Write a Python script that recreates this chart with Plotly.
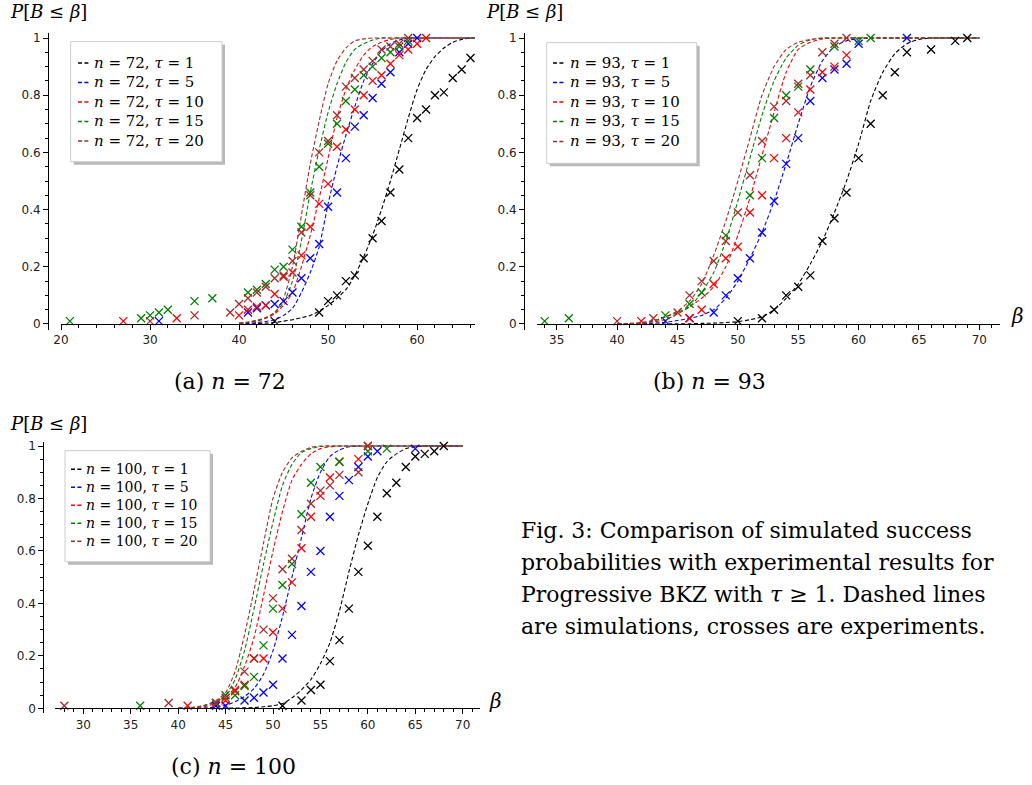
import plotly.graph_objects as go

W, H = 1032, 785

# ---------------- data ----------------
COLORS = ["#000000", "#0000ff", "#ff0000", "#008000", "#a52a2a"]
TAUS = [1, 5, 10, 15, 20]

# Panel (a) n = 72 : simulated curves on an integer beta grid
A_BETA_SIM = [40, 41, 42, 43, 44, 45, 46, 47, 48, 49, 50, 51, 52, 53, 54, 55, 56, 57,
              58, 59, 60, 61, 62, 63, 64, 65, 66, 67]
A_SIM_T1 = [0.0, 0.0, 0.001, 0.003, 0.005, 0.01, 0.015, 0.022, 0.03, 0.045, 0.065, 0.09,
            0.12, 0.17, 0.235, 0.31, 0.40, 0.50, 0.61, 0.72, 0.82, 0.89, 0.935, 0.965,
            0.985, 0.995, 1.0, 1.0]
A_SIM_T5 = [0.0, 0.002, 0.005, 0.009, 0.015, 0.03, 0.055, 0.11, 0.18, 0.27, 0.42, 0.55,
            0.66, 0.76, 0.85, 0.91, 0.955, 0.98, 0.993, 1.0, 1.0, 1.0, 1.0, 1.0, 1.0, 1.0,
            1.0, 1.0]
A_SIM_T10 = [0.002, 0.005, 0.01, 0.02, 0.035, 0.065, 0.11, 0.2, 0.31, 0.44, 0.58, 0.72,
             0.82, 0.89, 0.94, 0.97, 0.985, 0.995, 1.0, 1.0, 1.0, 1.0, 1.0, 1.0, 1.0, 1.0,
             1.0, 1.0]
A_SIM_T15 = [0.003, 0.006, 0.012, 0.022, 0.04, 0.075, 0.15, 0.29, 0.46, 0.61, 0.74, 0.84,
             0.915, 0.96, 0.98, 0.993, 1.0, 1.0, 1.0, 1.0, 1.0, 1.0, 1.0, 1.0, 1.0, 1.0,
             1.0, 1.0]
A_SIM_T20 = [0.003, 0.007, 0.013, 0.022, 0.04, 0.09, 0.2, 0.38, 0.56, 0.71, 0.84, 0.92,
             0.965, 0.99, 0.997, 1.0, 1.0, 1.0, 1.0, 1.0, 1.0, 1.0, 1.0, 1.0, 1.0, 1.0,
             1.0, 1.0]
# Panel (a) experiments
A_T1_B = [44, 49, 50, 51, 52, 53, 54, 55, 56, 57, 58, 59, 60, 61, 62, 63, 64, 65, 66]
A_T1_P = [0.01, 0.04, 0.08, 0.10, 0.15, 0.17, 0.23, 0.30, 0.36, 0.46, 0.54, 0.65, 0.72,
          0.75, 0.80, 0.81, 0.86, 0.89, 0.93]
A_T5_B = [31, 41, 42, 43, 44, 45, 46, 47, 48, 49, 50, 51, 52, 53, 54, 55, 56, 57, 58, 59, 60]
A_T5_P = [0.01, 0.04, 0.055, 0.065, 0.07, 0.08, 0.11, 0.16, 0.23, 0.28, 0.41, 0.46, 0.58,
          0.69, 0.73, 0.79, 0.84, 0.88, 0.95, 0.98, 1.0]
A_T10_B = [27, 33, 40, 41, 42, 43, 44, 45, 46, 47, 48, 49, 50, 51, 52, 53, 54, 55, 56, 57,
           58, 59, 60, 61]
A_T10_P = [0.01, 0.02, 0.03, 0.05, 0.06, 0.065, 0.105, 0.165, 0.18, 0.24, 0.34, 0.42, 0.49,
           0.62, 0.68, 0.75, 0.80, 0.85, 0.87, 0.91, 0.94, 0.96, 0.98, 1.0]
A_T15_B = [21, 29, 30, 31, 32, 35, 37, 41, 42, 43, 44, 45, 46, 47, 48, 49, 50, 51, 52, 53,
           54, 55, 56, 57, 58, 59]
A_T15_P = [0.01, 0.02, 0.03, 0.04, 0.05, 0.08, 0.09, 0.11, 0.12, 0.14, 0.19, 0.20, 0.26,
           0.34, 0.46, 0.55, 0.63, 0.70, 0.78, 0.82, 0.87, 0.90, 0.93, 0.95, 0.97, 0.99]
A_T20_B = [30, 35, 39, 40, 41, 42, 43, 44, 45, 46, 47, 48, 49, 50, 51, 52, 53, 54, 55, 56,
           57, 58, 59]
A_T20_P = [0.01, 0.03, 0.04, 0.07, 0.09, 0.11, 0.13, 0.16, 0.17, 0.22, 0.32, 0.45, 0.60,
           0.64, 0.73, 0.83, 0.86, 0.89, 0.92, 0.96, 0.97, 0.98, 1.0]

# Panel (b) n = 93
B_BETA_SIM = [40, 41, 42, 43, 44, 45, 46, 47, 48, 49, 50, 51, 52, 53, 54, 55, 56, 57, 58,
              59, 60, 61, 62, 63, 64, 65, 66, 67, 68, 69, 70]
B_SIM_T1 = [0.0, 0.0, 0.0, 0.0, 0.0, 0.001, 0.001, 0.002, 0.003, 0.005, 0.008, 0.015, 0.025,
            0.05, 0.09, 0.14, 0.21, 0.29, 0.39, 0.50, 0.63, 0.78, 0.88, 0.945, 0.98, 0.995,
            1.0, 1.0, 1.0, 1.0, 1.0]
B_SIM_T5 = [0.0, 0.0, 0.001, 0.003, 0.006, 0.012, 0.02, 0.03, 0.05, 0.09, 0.15, 0.23, 0.32,
            0.43, 0.56, 0.70, 0.83, 0.92, 0.97, 0.99, 0.998, 1.0, 1.0, 1.0, 1.0, 1.0, 1.0,
            1.0, 1.0, 1.0, 1.0]
B_SIM_T10 = [0.0, 0.0, 0.003, 0.008, 0.015, 0.035, 0.06, 0.09, 0.13, 0.2, 0.31, 0.44, 0.59,
             0.74, 0.88, 0.96, 0.985, 0.997, 1.0, 1.0, 1.0, 1.0, 1.0, 1.0, 1.0, 1.0, 1.0,
             1.0, 1.0, 1.0, 1.0]
B_SIM_T15 = [0.0, 0.0, 0.004, 0.01, 0.025, 0.04, 0.06, 0.11, 0.18, 0.29, 0.43, 0.58, 0.73,
             0.85, 0.93, 0.975, 0.993, 1.0, 1.0, 1.0, 1.0, 1.0, 1.0, 1.0, 1.0, 1.0, 1.0,
             1.0, 1.0, 1.0, 1.0]
B_SIM_T20 = [0.0, 0.002, 0.005, 0.012, 0.025, 0.045, 0.08, 0.14, 0.24, 0.36, 0.50, 0.65,
             0.80, 0.90, 0.96, 0.985, 0.995, 1.0, 1.0, 1.0, 1.0, 1.0, 1.0, 1.0, 1.0, 1.0,
             1.0, 1.0, 1.0, 1.0, 1.0]
B_T1_B = [50, 52, 53, 54, 55, 56, 57, 58, 59, 60, 61, 62, 63, 64, 66, 68, 69]
B_T1_P = [0.01, 0.02, 0.05, 0.10, 0.13, 0.17, 0.29, 0.37, 0.46, 0.58, 0.70, 0.80, 0.88,
          0.95, 0.96, 0.99, 1.0]
B_T5_B = [44, 46, 48, 49, 50, 51, 52, 53, 54, 55, 56, 57, 58, 59, 60, 64]
B_T5_P = [0.01, 0.02, 0.04, 0.10, 0.16, 0.23, 0.32, 0.43, 0.56, 0.65, 0.78, 0.86, 0.89,
          0.91, 0.98, 1.0]
B_T10_B = [42, 46, 47, 48, 49, 50, 51, 52, 53, 54, 55, 56, 57, 58, 59]
B_T10_P = [0.01, 0.02, 0.05, 0.14, 0.23, 0.27, 0.39, 0.45, 0.58, 0.65, 0.74, 0.82, 0.88,
           0.90, 0.94]
B_T15_B = [34, 36, 44, 46, 47, 49, 51, 52, 53, 54, 55, 56, 58, 60, 61]
B_T15_P = [0.01, 0.02, 0.03, 0.07, 0.11, 0.31, 0.45, 0.58, 0.72, 0.80, 0.83, 0.89, 0.97,
           0.99, 1.0]
B_T20_B = [40, 43, 45, 46, 47, 48, 49, 50, 51, 52, 53, 54, 55, 56, 57, 58, 59]
B_T20_P = [0.01, 0.02, 0.04, 0.10, 0.15, 0.22, 0.29, 0.39, 0.52, 0.64, 0.76, 0.78, 0.84,
           0.87, 0.95, 0.98, 1.0]

# Panel (c) n = 100
C_BETA_SIM = [40, 41, 42, 43, 44, 45, 46, 47, 48, 49, 50, 51, 52, 53, 54, 55, 56, 57, 58,
              59, 60, 61, 62, 63, 64, 65, 66, 67, 68, 69, 70]
C_SIM_T1 = [0.0, 0.0, 0.0, 0.0, 0.0, 0.001, 0.001, 0.002, 0.003, 0.006, 0.01, 0.018, 0.04,
            0.07, 0.11, 0.17, 0.25, 0.37, 0.52, 0.66, 0.78, 0.88, 0.94, 0.97, 0.99, 0.997,
            1.0, 1.0, 1.0, 1.0, 1.0]
C_SIM_T5 = [0.0, 0.0, 0.0, 0.002, 0.005, 0.012, 0.025, 0.045, 0.075, 0.13, 0.22, 0.35, 0.50,
            0.65, 0.80, 0.90, 0.96, 0.985, 0.997, 1.0, 1.0, 1.0, 1.0, 1.0, 1.0, 1.0, 1.0,
            1.0, 1.0, 1.0, 1.0]
C_SIM_T10 = [0.0, 0.0, 0.003, 0.008, 0.02, 0.04, 0.08, 0.16, 0.27, 0.43, 0.60, 0.75, 0.87,
             0.93, 0.97, 0.99, 0.997, 1.0, 1.0, 1.0, 1.0, 1.0, 1.0, 1.0, 1.0, 1.0, 1.0,
             1.0, 1.0, 1.0, 1.0]
C_SIM_T15 = [0.0, 0.002, 0.005, 0.012, 0.025, 0.05, 0.11, 0.22, 0.38, 0.55, 0.71, 0.85,
             0.93, 0.975, 0.99, 0.998, 1.0, 1.0, 1.0, 1.0, 1.0, 1.0, 1.0, 1.0, 1.0, 1.0,
             1.0, 1.0, 1.0, 1.0, 1.0]
C_SIM_T20 = [0.0, 0.002, 0.006, 0.014, 0.03, 0.06, 0.14, 0.28, 0.45, 0.63, 0.80, 0.90,
             0.955, 0.98, 0.995, 1.0, 1.0, 1.0, 1.0, 1.0, 1.0, 1.0, 1.0, 1.0, 1.0, 1.0,
             1.0, 1.0, 1.0, 1.0, 1.0]
C_T1_B = [51, 53, 54, 55, 56, 57, 58, 59, 60, 61, 62, 63, 64, 65, 66, 67, 68]
C_T1_P = [0.01, 0.03, 0.07, 0.09, 0.18, 0.26, 0.38, 0.52, 0.62, 0.73, 0.82, 0.86, 0.92,
          0.96, 0.97, 0.98, 1.0]
C_T5_B = [44, 45, 47, 48, 49, 50, 51, 52, 53, 54, 55, 56, 57, 58, 59, 60, 61, 65]
C_T5_P = [0.01, 0.01, 0.03, 0.04, 0.06, 0.09, 0.19, 0.28, 0.39, 0.52, 0.60, 0.73, 0.81,
          0.87, 0.92, 0.96, 0.98, 0.99]
C_T10_B = [41, 44, 45, 46, 47, 48, 49, 50, 51, 52, 53, 54, 55, 56, 57, 59, 60]
C_T10_P = [0.01, 0.02, 0.03, 0.065, 0.09, 0.19, 0.19, 0.29, 0.38, 0.48, 0.61, 0.73, 0.81,
           0.88, 0.94, 0.95, 1.0]
C_T15_B = [36, 44, 45, 46, 47, 48, 49, 50, 51, 52, 53, 54, 55, 57, 60, 62]
C_T15_P = [0.01, 0.02, 0.05, 0.05, 0.085, 0.12, 0.24, 0.38, 0.47, 0.55, 0.74, 0.86, 0.92,
           0.94, 0.98, 0.99]
C_T20_B = [28, 39, 44, 45, 46, 47, 48, 49, 50, 51, 52, 53, 54, 55, 56, 57, 59, 60]
C_T20_P = [0.01, 0.02, 0.02, 0.04, 0.07, 0.14, 0.19, 0.30, 0.42, 0.53, 0.57, 0.68, 0.78,
           0.83, 0.85, 0.89, 0.90, 1.0]

Y_TICKS = [0, 0.2, 0.4, 0.6, 0.8, 1]
Y_TICK_LABELS = ["0", "0.2", "0.4", "0.6", "0.8", "1"]
A_X_TICKS = [20, 30, 40, 50, 60]
B_X_TICKS = [35, 40, 45, 50, 55, 60, 65, 70]
C_X_TICKS = [30, 35, 40, 45, 50, 55, 60, 65, 70]

CAPTION_LINES = ["Fig. 3: Comparison of simulated success",
                 "probabilities with experimental results for",
                 "Progressive BKZ with <i>τ</i> ≥ 1. Dashed lines",
                 "are simulations, crosses are experiments."]

# ---------------- figure ----------------
def px(x):
    return x / W

def py(y):
    return 1 - y / H

panels = [
    dict(n=72, xa="x", ya="y", grid=A_BETA_SIM,
         sims=[A_SIM_T1, A_SIM_T5, A_SIM_T10, A_SIM_T15, A_SIM_T20],
         exb=[A_T1_B, A_T5_B, A_T10_B, A_T15_B, A_T20_B],
         exp=[A_T1_P, A_T5_P, A_T10_P, A_T15_P, A_T20_P]),
    dict(n=93, xa="x2", ya="y2", grid=B_BETA_SIM,
         sims=[B_SIM_T1, B_SIM_T5, B_SIM_T10, B_SIM_T15, B_SIM_T20],
         exb=[B_T1_B, B_T5_B, B_T10_B, B_T15_B, B_T20_B],
         exp=[B_T1_P, B_T5_P, B_T10_P, B_T15_P, B_T20_P]),
    dict(n=100, xa="x3", ya="y3", grid=C_BETA_SIM,
         sims=[C_SIM_T1, C_SIM_T5, C_SIM_T10, C_SIM_T15, C_SIM_T20],
         exb=[C_T1_B, C_T5_B, C_T10_B, C_T15_B, C_T20_B],
         exp=[C_T1_P, C_T5_P, C_T10_P, C_T15_P, C_T20_P]),
]

fig = go.Figure()
for p in panels:
    for i, tau in enumerate(TAUS):
        fig.add_trace(go.Scatter(
            x=p["grid"], y=p["sims"][i], mode="lines", xaxis=p["xa"], yaxis=p["ya"],
            line=dict(color=COLORS[i], width=1.1, dash="4px,2.4px", shape="spline",
                      smoothing=0.6),
            name=f"n={p['n']}, τ={tau} (simulation)", showlegend=False,
            hoverinfo="skip"))
    for i, tau in enumerate(TAUS):
        fig.add_trace(go.Scatter(
            x=p["exb"][i], y=p["exp"][i], mode="markers", xaxis=p["xa"], yaxis=p["ya"],
            marker=dict(symbol="x-thin", size=8, color=COLORS[i],
                        line=dict(color=COLORS[i], width=1.3)),
            cliponaxis=False,
            name=f"n={p['n']}, τ={tau} (experiment)", showlegend=False))

tickfont = dict(family="DejaVu Sans", size=12, color="#222222")

def xaxis(dom, rng, ticks, minor_dtick, minor_t0, ypos):
    return dict(domain=[px(dom[0]), px(dom[1])], range=rng, anchor="free",
                position=py(ypos), showline=True, linecolor="#000000", linewidth=1,
                ticks="outside", ticklen=5, tickwidth=1, tickcolor="#000000",
                tickvals=ticks, ticktext=[str(t) for t in ticks], tickfont=tickfont,
                minor=dict(dtick=minor_dtick, tick0=minor_t0, ticks="outside", ticklen=3,
                           tickwidth=1, tickcolor="#000000", showgrid=False),
                showgrid=False, zeroline=False, automargin=False, fixedrange=True)

def yaxis(dom, rng, xpos):
    return dict(domain=[py(dom[1]), py(dom[0])], range=rng, anchor="free",
                position=px(xpos), showline=True, linecolor="#000000", linewidth=1,
                ticks="outside", ticklen=5, tickwidth=1, tickcolor="#000000",
                tickvals=Y_TICKS, ticktext=Y_TICK_LABELS, tickfont=tickfont,
                minor=dict(dtick=0.05, tick0=0, ticks="outside", ticklen=3, tickwidth=1,
                           tickcolor="#000000", showgrid=False),
                showgrid=False, zeroline=False, automargin=False, fixedrange=True)

fig.update_layout(
    width=W, height=H, margin=dict(l=0, r=0, t=0, b=0), autosize=False,
    paper_bgcolor="white", plot_bgcolor="white", showlegend=False,
    xaxis=xaxis((61, 475), [20, 66.5], A_X_TICKS, 2, 20, 324),
    yaxis=yaxis((33, 330), [-0.021, 1.0175], 48),
    xaxis2=xaxis((536.7, 1000), [33.34, 71.71], B_X_TICKS, 1, 35, 324),
    yaxis2=yaxis((33, 330), [-0.021, 1.0175], 524),
    xaxis3=xaxis((55, 480), [27.02, 71.82], C_X_TICKS, 1, 30, 708.3),
    yaxis3=yaxis((441.7, 713.3), [-0.019, 1.0164], 43.3),
)

shapes = []
annotations = []
serif = "DejaVu Serif"

legend_specs = [
    dict(n=72, box=(70.7, 41.7, 222, 161.7), rows=[63, 82.5, 102, 121.5, 141],
         sx=(78, 90), tx=92, fs=15),
    dict(n=93, box=(546.7, 42.7, 696.7, 163.3), rows=[63, 82.5, 102, 121.5, 141.5],
         sx=(553, 565), tx=568, fs=15),
    dict(n=100, box=(65, 450.7, 210, 561.7), rows=[469.3, 487.3, 505.3, 523.3, 541.3],
         sx=(71, 82), tx=84, fs=14),
]
for L in legend_specs:
    x0, y0, x1, y1 = L["box"]
    shapes.append(dict(type="rect", xref="paper", yref="paper", layer="above",
                       x0=px(x0 + 3), x1=px(x1 + 3), y0=py(y1 + 3), y1=py(y0 + 3),
                       fillcolor="#b8b8b8", line=dict(width=0)))
    shapes.append(dict(type="rect", xref="paper", yref="paper", layer="above",
                       x0=px(x0), x1=px(x1), y0=py(y1), y1=py(y0),
                       fillcolor="white", line=dict(color="#cccccc", width=1)))
    for i, tau in enumerate(TAUS):
        yy = L["rows"][i]
        shapes.append(dict(type="line", xref="paper", yref="paper", layer="above",
                           x0=px(L["sx"][0]), x1=px(L["sx"][1]), y0=py(yy), y1=py(yy),
                           line=dict(color=COLORS[i], width=1.4, dash="4px,2.4px")))
        annotations.append(dict(
            xref="paper", yref="paper", x=px(L["tx"]), y=py(yy), xanchor="left",
            yanchor="middle", showarrow=False,
            text=f"<i>n</i> = {L['n']}, <i>τ</i> = {tau}",
            font=dict(family=serif, size=L["fs"], color="#000000")))

# axis titles
for (xx, yy) in [(8, 12), (484, 12), (8, 423)]:
    annotations.append(dict(xref="paper", yref="paper", x=px(xx), y=py(yy),
                            xanchor="left", yanchor="middle", showarrow=False,
                            text="<i>P</i>[<i>B</i> ≤ <i>β</i>]",
                            font=dict(family=serif, size=18, color="#000000")))
for (xx, yy) in [(1017, 316), (495.5, 701)]:
    annotations.append(dict(xref="paper", yref="paper", x=px(xx), y=py(yy),
                            xanchor="center", yanchor="middle", showarrow=False,
                            text="<i>β</i>",
                            font=dict(family=serif, size=20, color="#000000")))

# sub-captions
for (xx, yy, t) in [(230, 381, "(a) <i>n</i> = 72"), (709, 381, "(b) <i>n</i> = 93"),
                    (233, 766, "(c) <i>n</i> = 100")]:
    annotations.append(dict(xref="paper", yref="paper", x=px(xx), y=py(yy),
                            xanchor="center", yanchor="middle", showarrow=False, text=t,
                            font=dict(family=serif, size=22, color="#000000")))

# figure caption
for k, line in enumerate(CAPTION_LINES):
    annotations.append(dict(xref="paper", yref="paper", x=px(519), y=py(530 + 32.2 * k),
                            xanchor="left", yanchor="middle", showarrow=False, text=line,
                            font=dict(family=serif, size=22, color="#000000")))

fig.update_layout(shapes=shapes, annotations=annotations)
fig.write_html("out.html",
               config={"displayModeBar": False},
               post_script="document.body.style.margin='0px';"
                           "document.body.style.overflow='hidden';")
